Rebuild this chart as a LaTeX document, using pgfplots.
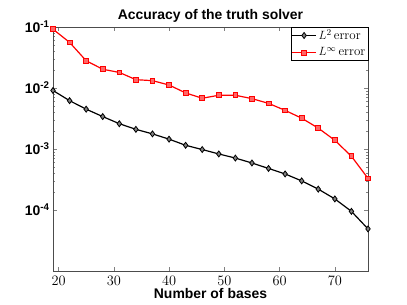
\documentclass[border=0pt]{standalone}
\usepackage{pgfplots}
\pgfplotsset{compat=1.18}
\usepackage{fontspec}
\setmainfont{Liberation Sans}
\newfontfamily\lmr{Latin Modern Roman}
\begin{document}
\begin{tikzpicture}[x=1bp,y=1bp]
\useasboundingbox (-53,-34) rectangle (354,271);
\begin{axis}[
  at={(0,0)}, anchor=south west,
  scale only axis,
  width=315bp, height=244bp,
  ymode=log,
  xmin=19, xmax=76, ymin=1e-5, ymax=1e-1,
  xtick={20,30,40,50,60,70},
  ytick={1e-4,1e-3,1e-2,1e-1},
  yticklabels={10\textsuperscript{-4},10\textsuperscript{-3},10\textsuperscript{-2},10\textsuperscript{-1}},
  tick align=inside,
  ticklabel style={font=\fontsize{14}{15}\selectfont\bfseries},
  xticklabel style={inner sep=0pt, yshift=-5bp},
  title={\fontsize{14}{15}\selectfont\bfseries Accuracy of the truth solver},
  xlabel={\fontsize{14}{15}\selectfont\bfseries Number of bases},
  xlabel style={inner sep=0pt, yshift=-3bp},
  title style={yshift=-5bp},
  axis line style={black!70},
  major tick length=4bp, minor tick length=2bp,
  legend style={at={(1,1)}, anchor=north east, font=\fontsize{13}{13}\selectfont, draw=black, inner sep=0.5pt, row sep=2.5pt, legend cell align=left},
  legend image code/.code={\draw[mark repeat=2,mark phase=2] plot coordinates {(0bp,0bp) (12bp,0bp) (24bp,0bp)};},
]
\addplot[black, line width=1.2pt, mark=diamond*, mark size=3pt, mark options={fill=black!50, line width=0.8pt}] coordinates {
(19,0.0091) (22,0.0062) (25,0.0045) (28,0.0034) (31,0.0026) (34,0.0021) (37,0.00177) (40,0.00145) (43,0.00115) (46,0.00098) (49,0.00083) (52,0.00071) (55,0.00059) (58,0.00048) (61,0.00039) (64,0.00030) (67,0.00022) (70,0.000152) (73,0.000095) (76,0.000049)
};
\addlegendentry{$L^2$\,{\lmr error}}
\addplot[red, line width=1.2pt, mark=square*, mark size=2.4pt, mark options={fill=red!60, line width=0.8pt}] coordinates {
(19,0.092) (22,0.056) (25,0.028) (28,0.0203) (31,0.018) (34,0.0137) (37,0.0132) (40,0.0112) (43,0.0083) (46,0.0068) (49,0.0076) (52,0.0076) (55,0.0067) (58,0.0056) (61,0.0043) (64,0.0032) (67,0.0022) (70,0.00139) (73,0.00076) (76,0.00033)
};
\addlegendentry{$L^\infty$\,{\lmr error}}
\end{axis}
\end{tikzpicture}
\end{document}
